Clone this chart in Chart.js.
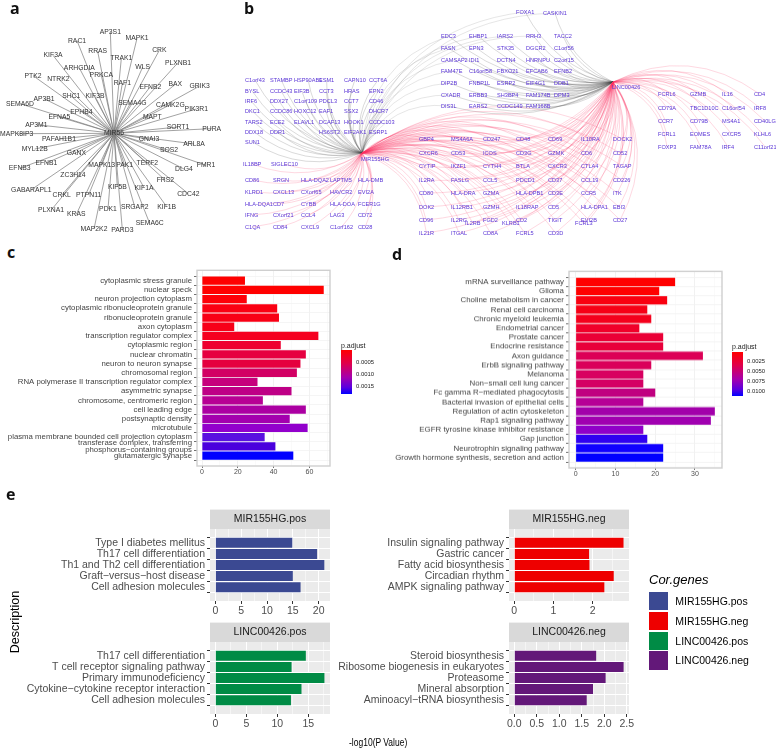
<!DOCTYPE html>
<html>
<head>
<meta charset="utf-8">
<script src="https://cdn.jsdelivr.net/npm/chart.js@4"></script>
<style>
  html, body { margin: 0; background: #fff; overflow: hidden; }
  #page { position: relative; width: 776px; height: 748px; overflow: hidden; font-family: "Liberation Sans", Arial, sans-serif; }
  canvas { position: absolute; }
  .txt { position: absolute; white-space: nowrap; transform: translateY(-50%); }
  .box { position: absolute; }
</style>
</head>
<body>
<div id="page"></div>
<script>
// panel a: network, coordinates in layout units of a 720 x 720 frame
const aHub = 'MIR56';
const aHubX = 342;
const aHubY = 400;
const aNames = ['AP3S1','RAC1','MAPK1','RRAS','CRK','KIF3A','TRAK1','PLXNB1','ARHGDIA','WLS','PRKCA','PTK2','NTRK2','RAF1','EFNB2','BAX','GRIK3','SHC1','KIF3B','AP3B1','SEMA6D','SEMA4G','CAMK2G','PIK3R1','EPHB4','EFNA5','MAPT','AP3M1','SORT1','PURA','MAPK8IP3','PAFAH1B1','GNAI3','ARL8A','MYL12B','SOS2','GANX','EFNB1','TERF2','FMR1','MAPK13','PAK1','EFNB3','DLG4','ZC3H14','FRS2','GABARAPL1','KIF5B','KIF1A','CRKL','PTPN11','CDC42','KIF1B','SRGAP2','PDK1','PLXNA1','KRAS','SEMA6C','MAP2K2','PARD3'];
const aX = [331,231,411,293,478,159,364,534,238,428,304,99,175,367,451,526,599,214,285,132,60,397,511,589,244,178,457,109,534,635,50,177,447,582,104,507,229,139,442,618,305,374,59,552,219,496,94,352,432,185,266,565,500,404,324,153,229,449,282,367];
const aY = [96,122,115,154,151,166,175,188,204,201,226,227,236,250,260,253,258,289,289,296,311,309,314,327,335,351,350,374,381,386,401,417,418,432,447,451,458,489,490,496,496,496,505,507,526,541,569,561,563,586,584,581,620,620,627,631,643,670,687,689];

// panel b: two hubs with gene grids around them, coordinates in picture units
const bHubNames = ['MIR155HG', 'LINC00426'];
const bHubX = [362, 613];
const bHubY = [153, 82];
const bHubLabelX = [361, 612];
const bHubLabelY = [159, 87];

const topCols = [441, 469, 497, 526, 554];
const topRows = [36, 48, 60, 71, 83, 95, 106];
const topNames = [
  ['EDC3','EHBP1','IARS2','RRH3','TACC2'],
  ['FASN','EPN3','STK35','DGCR2','C1orf56'],
  ['CAMSAP2','IDI1','DCTN4','HNRNPU','C2orf15'],
  ['FAM47E','C16orf58','FBXO21','EFCAB6','EFNB2'],
  ['DIP2B','FNBP1L','ESRP2','EIF4G1','DDB1'],
  ['CXADR','ERBB3','SH3BP4','FAM174B','DPM3'],
  ['DIS3L','EARS2','CCDC149','FAM168B',null]
];
const topExtraNames = ['FOXA1', 'CASKIN1'];
const topExtraX = [516, 543];
const topExtraY = [12, 13];
const topToMir = ['FOXA1','CASKIN1','EDC3','EHBP1','IARS2','RRH3','FASN','CAMSAP2','FAM47E','DIP2B','CXADR','DIS3L'];

const leftCols = [245, 270, 294, 319, 344, 369];
const leftRows = [80, 91, 101, 111, 122, 132, 142];
const leftNames = [
  ['C1orf43','STAMBP','HSP90AB1','ESM1','CAPN10','CCT6A'],
  ['BYSL','CCDC43','EIF3B','CCT3','HRAS','EPN2'],
  ['IRF6','DDX27','C1orf109','PDCL3','CCT7','CD46'],
  ['DKC1','CCDC86','HOXC12','EAF1','SSX2','DHCR7'],
  ['TARS2','ECE2','ELAVL1','DCAF13','HOOK1','CCDC103'],
  ['DDX18','DDR1',null,'HS6ST2','EIF2AK1','ESRP1'],
  ['SUN1',null,null,null,null,null]
];

const lowCols = [245, 273, 301, 330, 358];
const lowRows = [180, 192, 204, 215, 227];
const lowNames = [
  ['CD86','SRGN','HLA-DQA2','LAPTM5','HLA-DMB'],
  ['KLRD1','CXCL13','CXorf65','HAVCR2','EVI2A'],
  ['HLA-DQA1','CD7','CYBB','HLA-DOA','FCER1G'],
  ['IFNG','CXorf21','CCL4','LAG3','CD72'],
  ['C1QA','CD84','CXCL9','C1orf162','CD28']
];
const lowExtraNames = ['IL18BP', 'SIGLEC10'];
const lowExtraX = [243, 271];
const lowExtraY = [164, 164];

const midCols = [419, 451, 483, 516, 548, 581, 613];
const midRows = [139, 153, 166, 180, 193, 207, 220, 233];
const midNames = [
  ['GBP4','MS4A6A','CD247','CD48','CD69','IL10RA','DOCK2'],
  ['CXCR6','CD53','ICOS','CD3G','GZMK','CD6','CD52'],
  ['CYTIP','IKZF1','CYTH4','BTLA','CXCR3','CTLA4','TAGAP'],
  ['IL2RA','FASLG','CCL5','PDCD1','CD37','CCL19','CD226'],
  ['CD80','HLA-DRA','GZMA','HLA-DPB1','CD3E','CCR5','ITK'],
  ['DOK2','IL12RB1','GZMH','IL18RAP','CD5','HLA-DPA1','EBI3'],
  ['CD96','IL2RG','FGD2','CD2','TIGIT','EVI2B','CD27'],
  ['IL21R','ITGAL','CD8A','FCRL5','CD3D',null,null]
];
const midExtraNames = ['IL2RB', 'KLRB1', 'FCRL3'];
const midExtraX = [465, 502, 575];
const midExtraY = [223, 223, 223];

const rightCols = [658, 690, 722, 754];
const rightRows = [94, 108, 121, 134, 147];
const rightNames = [
  ['FCRL6','GZMB','IL16','CD4'],
  ['CD79A','TBC1D10C','C16orf54','IRF8'],
  ['CCR7','CD79B','MS4A1','CD40LG'],
  ['FCRL1','EOMES','CXCR5','KLHL6'],
  ['FOXP3','FAM78A','IRF4','C11orf21']
];

// panel c
const cLabels = ['cytoplasmic stress granule','nuclear speck','neuron projection cytoplasm','cytoplasmic ribonucleoprotein granule','ribonucleoprotein granule','axon cytoplasm','transcription regulator complex','cytoplasmic region','nuclear chromatin','neuron to neuron synapse','chromosomal region','RNA polymerase II transcription regulator complex','asymmetric synapse','chromosome, centromeric region','cell leading edge','postsynaptic density','microtubule','plasma membrane bounded cell projection cytoplasm',['transferase complex, transferring','phosphorus\u2212containing groups'],'glutamatergic synapse'];
const cValues = [24,68,25,42,43,18,65,44,58,55,53,31,50,34,58,49,59,35,41,51];
const cColors = ['#fe0000','#ff0000','#fe0008','#fa0012','#f80015','#f70018','#f5001f','#ee0030','#e60040','#e5003f','#d20064','#c6007c','#be0086','#b70094','#ab00a2','#a300ae','#9200cc','#5a10e0','#4a00dd','#0000ff'];
const cLegendTicks = ['0.0005','0.0010','0.0015'];

// panel d
const dLabels = ['mRNA surveillance pathway','Glioma','Choline metabolism in cancer','Renal cell carcinoma','Chronic myeloid leukemia','Endometrial cancer','Prostate cancer','Endocrine resistance','Axon guidance','ErbB signaling pathway','Melanoma','Non\u2212small cell lung cancer','Fc gamma R\u2212mediated phagocytosis','Bacterial invasion of epithelial cells','Regulation of actin cytoskeleton','Rap1 signaling pathway','EGFR tyrosine kinase inhibitor resistance','Gap junction','Neurotrophin signaling pathway','Growth hormone synthesis, secretion and action'];
const dValues = [25,21,23,18,19,16,22,22,32,19,17,17,20,17,35,34,17,18,22,22];
const dColors = ['#ff0000','#ff0000','#f90010','#f60016','#f4001c','#f0002a','#ea0036','#e8003a','#dc0056','#da005a','#d80060','#d40064','#c00080','#b60096','#a200aa','#a000b0','#9000c8','#3000f0','#1000ff','#0000ff'];
const dLegendTicks = ['0.0025','0.0050','0.0075','0.0100'];

// panel e
const e1Labels = ['Type I diabetes mellitus','Th17 cell differentiation','Th1 and Th2 cell differentiation','Graft\u2212versus\u2212host disease','Cell adhesion molecules'];
const e1Values = [14.9,19.7,21.1,15,16.5];
const e2Labels = ['Insulin signaling pathway','Gastric cancer','Fatty acid biosynthesis','Circadian rhythm','AMPK signaling pathway'];
const e2Values = [2.79,1.91,1.92,2.54,2.3];
const e3Labels = ['Th17 cell differentiation','T cell receptor signaling pathway','Primary immunodeficiency','Cytokine\u2212cytokine receptor interaction','Cell adhesion molecules'];
const e3Values = [14.6,12.3,17.6,13.9,12.2];
const e4Labels = ['Steroid biosynthesis','Ribosome biogenesis in eukaryotes','Proteasome','Mineral absorption','Aminoacyl\u2212tRNA biosynthesis'];
const e4Values = [1.82,2.43,2.03,1.75,1.61];
const eGroups = ['MIR155HG.pos','MIR155HG.neg','LINC00426.pos','LINC00426.neg'];
const eColors = ['#3B4992','#EE0000','#008B45','#631879'];

const FONT = '"Liberation Sans", Arial, sans-serif';
const page = document.getElementById('page');

function addCanvas(left, top, w, h) {
  const c = document.createElement('canvas');
  c.width = w;
  c.height = h;
  c.style.left = left + 'px';
  c.style.top = top + 'px';
  c.style.width = w + 'px';
  c.style.height = h + 'px';
  page.appendChild(c);
  return c;
}

function addText(str, x, y, css) {
  const d = document.createElement('div');
  d.className = 'txt';
  d.textContent = str;
  d.style.left = x + 'px';
  d.style.top = y + 'px';
  d.style.cssText += css || '';
  page.appendChild(d);
  return d;
}

function addBox(x, y, w, h, background) {
  const d = document.createElement('div');
  d.className = 'box';
  d.style.cssText = `left:${x}px;top:${y}px;width:${w}px;height:${h}px;background:${background}`;
  page.appendChild(d);
}

// gene names next to the (invisible) node points
const nodeLabels = {
  id: 'nodeLabels',
  afterDatasetsDraw(chart, args, opts) {
    const { ctx, scales } = chart;
    ctx.save();
    ctx.font = opts.font;
    ctx.fillStyle = opts.color;
    ctx.textAlign = opts.align;
    ctx.textBaseline = 'middle';
    chart.data.datasets[0].data.forEach(p => {
      ctx.fillText(p.name, scales.x.getPixelForValue(p.x), scales.y.getPixelForValue(p.y));
    });
    ctx.restore();
  }
};

// curved hub-to-gene edges for panel b
const curvedEdges = {
  id: 'curvedEdges',
  beforeDatasetsDraw(chart, args, opts) {
    const { ctx, scales } = chart;
    const nodes = {};
    chart.data.datasets[0].data.forEach(p => { nodes[p.name] = p; });
    ctx.save();
    ctx.font = opts.font;
    opts.groups.forEach(g => {
      ctx.strokeStyle = g.color;
      ctx.lineWidth = g.width;
      const hx = scales.x.getPixelForValue(bHubX[g.hub]);
      const hy = scales.y.getPixelForValue(bHubY[g.hub]);
      g.names.forEach(name => {
        const p = nodes[name];
        const nx = scales.x.getPixelForValue(p.x) + ctx.measureText(name).width / 2;
        const ny = scales.y.getPixelForValue(p.y);
        const dx = nx - hx;
        const dy = ny - hy;
        ctx.beginPath();
        ctx.moveTo(hx, hy);
        ctx.quadraticCurveTo((hx + nx) / 2 + dy * g.bend, (hy + ny) / 2 - dx * g.bend, nx, ny);
        ctx.stroke();
      });
    });
    ctx.restore();
  }
};

// panel background, ggplot strip and panel border
const panelDeco = {
  id: 'panelDeco',
  beforeDraw(chart, args, opts) {
    const { ctx, chartArea: a } = chart;
    ctx.save();
    if (opts.bg) {
      ctx.fillStyle = opts.bg;
      ctx.fillRect(a.left, a.top, a.right - a.left, a.bottom - a.top);
    }
    if (opts.strip) {
      ctx.fillStyle = '#d9d9d9';
      ctx.fillRect(a.left, a.top - opts.stripH, a.right - a.left, opts.stripH);
      ctx.fillStyle = '#1a1a1a';
      ctx.font = '10.5px ' + FONT;
      ctx.textAlign = 'center';
      ctx.textBaseline = 'middle';
      ctx.fillText(opts.strip, (a.left + a.right) / 2, a.top - opts.stripH / 2);
    }
    ctx.restore();
  },
  afterDraw(chart, args, opts) {
    if (!opts.border) return;
    const { ctx, chartArea: a } = chart;
    ctx.save();
    ctx.strokeStyle = opts.border;
    ctx.lineWidth = 1.4;
    ctx.strokeRect(a.left, a.top, a.right - a.left, a.bottom - a.top);
    ctx.restore();
  }
};

function networkChart(canvas, xRange, yRange, datasets, pluginOpts, plugins) {
  return new Chart(canvas.getContext('2d'), {
    type: 'scatter',
    data: { datasets },
    options: {
      responsive: false,
      animation: false,
      events: [],
      layout: { padding: 0 },
      plugins: Object.assign({ legend: { display: false }, tooltip: { enabled: false } }, pluginOpts),
      scales: {
        x: { display: false, min: xRange[0], max: xRange[1] },
        y: { display: false, min: yRange[0], max: yRange[1], reverse: true }
      }
    },
    plugins
  });
}

// horizontal ggplot style bars; categories sit on a linear scale with ggplot's 0.6 expansion
function barChart(o) {
  const mT = o.strip ? 21 : 4;
  const mR = 12;
  const mB = 20;
  const canvas = addCanvas(o.l - o.mL, o.t - mT, o.mL + (o.r - o.l) + mR, mT + (o.b - o.t) + mB);
  const isMajor = v => Math.abs(v / o.xMajor - Math.round(v / o.xMajor)) < 1e-6;
  const gray = o.theme === 'gray';
  return new Chart(canvas.getContext('2d'), {
    type: 'bar',
    data: {
      datasets: [{
        data: o.values.map((v, i) => ({ x: v, y: i + 1 })),
        backgroundColor: o.colors,
        categoryPercentage: 0.9,
        barPercentage: 1
      }]
    },
    options: {
      indexAxis: 'y',
      responsive: false,
      animation: false,
      events: [],
      layout: { padding: { top: mT, right: mR, left: 0, bottom: 0 } },
      plugins: {
        legend: { display: false },
        tooltip: { enabled: false },
        panelDeco: {
          bg: gray ? '#ebebeb' : '#fff',
          border: gray ? null : '#cfcfcf',
          strip: o.strip,
          stripH: 19.4
        }
      },
      scales: {
        x: {
          type: 'linear',
          min: o.xMin,
          max: o.xMax,
          afterFit: s => { s.height = mB; },
          border: { display: false },
          grid: {
            color: c => gray ? '#fff' : (isMajor(c.tick.value) ? '#ebebeb' : '#f5f5f5'),
            lineWidth: c => isMajor(c.tick.value) ? (gray ? 1 : 0.7) : 0.5,
            tickColor: c => isMajor(c.tick.value) ? '#333' : 'rgba(0,0,0,0)',
            tickLength: gray ? 3 : 2
          },
          ticks: {
            stepSize: o.xMajor / 2,
            includeBounds: false,
            autoSkip: false,
            maxRotation: 0,
            minRotation: 0,
            padding: gray ? 1 : 0,
            color: '#4d4d4d',
            font: { family: FONT, size: o.xFont },
            callback: v => isMajor(v) ? (o.xMajor < 1 ? v.toFixed(1) : String(Math.round(v))) : ''
          }
        },
        y: {
          type: 'linear',
          reverse: true,
          min: 0.4,
          max: o.values.length + 0.6,
          afterFit: s => { s.width = o.mL; },
          border: { display: false },
          grid: {
            color: gray ? '#fff' : '#f0f0f0',
            lineWidth: gray ? 1 : 0.7,
            tickColor: '#333',
            tickLength: 3
          },
          ticks: {
            stepSize: 1,
            includeBounds: false,
            autoSkip: false,
            padding: 2,
            color: o.yColor,
            font: { family: FONT, size: o.yFont, lineHeight: o.yLine },
            callback: v => o.labels[v - 1]
          }
        }
      }
    },
    plugins: [panelDeco]
  });
}

// panel a
const aEdges = aNames.map((n, i) => ({
  type: 'line',
  data: [{ x: aHubX, y: aHubY }, { x: aX[i], y: aY[i] }],
  borderColor: '#7a7a7a',
  borderWidth: 0.7,
  pointRadius: 0
}));
const aNodes = {
  data: aNames.map((n, i) => ({ x: aX[i], y: aY[i], name: n })).concat([{ x: aHubX, y: aHubY, name: aHub }]),
  pointRadius: 0
};
networkChart(addCanvas(0, 0, 240, 240), [0, 720], [0, 720], [aNodes].concat(aEdges), {
  nodeLabels: { font: '6.8px ' + FONT, color: '#333', align: 'center' }
}, [nodeLabels]);

// panel b
function gridNodes(names, cols, rows) {
  const out = [];
  names.forEach((row, r) => row.forEach((n, c) => {
    if (n) out.push({ x: cols[c], y: rows[r], name: n });
  }));
  return out;
}
function extraNodes(names, xs, ys) {
  return names.map((n, i) => ({ x: xs[i], y: ys[i], name: n }));
}
const topNodes = gridNodes(topNames, topCols, topRows).concat(extraNodes(topExtraNames, topExtraX, topExtraY));
const leftNodes = gridNodes(leftNames, leftCols, leftRows);
const lowNodes = gridNodes(lowNames, lowCols, lowRows).concat(extraNodes(lowExtraNames, lowExtraX, lowExtraY));
const midNodes = gridNodes(midNames, midCols, midRows).concat(extraNodes(midExtraNames, midExtraX, midExtraY));
const rightNodes = gridNodes(rightNames, rightCols, rightRows);
const hubNodes = extraNodes(bHubNames, bHubLabelX, bHubLabelY);
const nameOf = p => p.name;
const GRAY_EDGE = 'rgba(70,70,70,0.4)';
const PALE_GRAY_EDGE = 'rgba(90,90,90,0.3)';
const RED_EDGE = 'rgba(250,50,95,0.38)';
const bFont = '5.6px ' + FONT;
networkChart(addCanvas(240, 0, 536, 245), [240, 776], [0, 245], [{
  data: topNodes.concat(leftNodes, lowNodes, midNodes, rightNodes, hubNodes),
  pointRadius: 0
}], {
  nodeLabels: { font: bFont, color: '#5a35d6', align: 'left' },
  curvedEdges: {
    font: bFont,
    groups: [
      { hub: 0, names: leftNodes.map(nameOf), color: GRAY_EDGE, width: 0.5, bend: 0.25 },
      { hub: 1, names: topNodes.map(nameOf), color: GRAY_EDGE, width: 0.5, bend: 0.22 },
      { hub: 0, names: topToMir, color: PALE_GRAY_EDGE, width: 0.5, bend: 0.34 },
      { hub: 0, names: lowNodes.map(nameOf), color: RED_EDGE, width: 0.5, bend: 0.25 },
      { hub: 0, names: midNodes.map(nameOf), color: RED_EDGE, width: 0.5, bend: 0.3 },
      { hub: 1, names: midNodes.map(nameOf), color: RED_EDGE, width: 0.5, bend: 0.3 },
      { hub: 1, names: rightNodes.map(nameOf), color: RED_EDGE, width: 0.5, bend: 0.3 }
    ]
  }
}, [curvedEdges, nodeLabels]);

// panels c and d
barChart({ labels: cLabels, values: cValues, colors: cColors, l: 197, r: 330, t: 269, b: 466, mL: 197,
  xMin: -2.8, xMax: 71.5, xMajor: 20, xFont: 7, yFont: 7.8, yLine: 0.85, yColor: '#444', theme: 'bw' });
barChart({ labels: dLabels, values: dValues, colors: dColors, l: 568.5, r: 721.5, t: 270, b: 467.5, mL: 190,
  xMin: -1.7, xMax: 36.8, xMajor: 10, xFont: 7, yFont: 7.9, yLine: 0.85, yColor: '#444', theme: 'bw' });

// panel e
const eTicks = { mL: 195, xFont: 10.5, yFont: 10.5, yLine: 1.1, yColor: '#4d4d4d', theme: 'gray' };
barChart(Object.assign({}, eTicks, { labels: e1Labels, values: e1Values, colors: eColors[0], strip: eGroups[0],
  l: 209.7, r: 330, t: 528.7, b: 600.7, xMin: -1.04, xMax: 22.2, xMajor: 5 }));
barChart(Object.assign({}, eTicks, { labels: e2Labels, values: e2Values, colors: eColors[1], strip: eGroups[1],
  l: 509, r: 629.3, t: 528.7, b: 600.7, xMin: -0.135, xMax: 2.93, xMajor: 1 }));
barChart(Object.assign({}, eTicks, { labels: e3Labels, values: e3Values, colors: eColors[2], strip: eGroups[2],
  l: 209.7, r: 330, t: 642, b: 714, xMin: -0.86, xMax: 18.5, xMajor: 5 }));
barChart(Object.assign({}, eTicks, { labels: e4Labels, values: e4Values, colors: eColors[3], strip: eGroups[3],
  l: 509, r: 629.3, t: 642, b: 714, xMin: -0.118, xMax: 2.55, xMajor: 0.5 }));

// panel letters
const letterCss = 'font:700 16px "Open Sans",sans-serif;color:#111';
addText('a', 10, 8, letterCss);
addText('b', 244, 8, letterCss);
addText('c', 7, 252, letterCss);
addText('d', 392, 254, letterCss);
addText('e', 6, 494, letterCss);

// colour bars for p.adjust
const BAR_FILL = 'linear-gradient(to bottom,#ff0000,#e0004a 30%,#a500ad 62%,#5a00e0 85%,#0000ff)';
function colourBar(x, y, w, h, titleY, labelX, ticks, tickYs) {
  addText('p.adjust', x, titleY, `font:7px ${FONT};color:#222`);
  addBox(x, y, w, h, BAR_FILL);
  ticks.forEach((t, i) => addText(t, labelX, tickYs[i], `font:5.9px ${FONT};color:#222`));
}
colourBar(341, 350, 11, 44, 345, 356, cLegendTicks, [361.7, 373.7, 385.7]);
colourBar(732, 351.7, 11.3, 44, 346, 747, dLegendTicks, [360.7, 370.7, 381, 391]);

// axis titles of panel e
const xTitle = addText('-log10(P Value)', 349, 742, `font:10px ${FONT};color:#000`);
xTitle.style.transformOrigin = 'left center';
xTitle.style.transform = 'translateY(-50%) scaleX(0.85)';
const desc = addText('Description', 15, 621.7, `font:12.5px ${FONT};color:#000`);
desc.style.transform = 'translate(-50%,-50%) rotate(-90deg)';

// legend of panel e
addText('Cor.genes', 649, 579, `font:italic 13px ${FONT};color:#000`);
const swatchY = [591.7, 611.7, 631.5, 651];
eGroups.forEach((g, i) => {
  addBox(649, swatchY[i], 19, 18.5, eColors[i]);
  addText(g, 675.3, swatchY[i] + 9.2, `font:10.5px ${FONT};color:#000`);
});
</script>
</body>
</html>
